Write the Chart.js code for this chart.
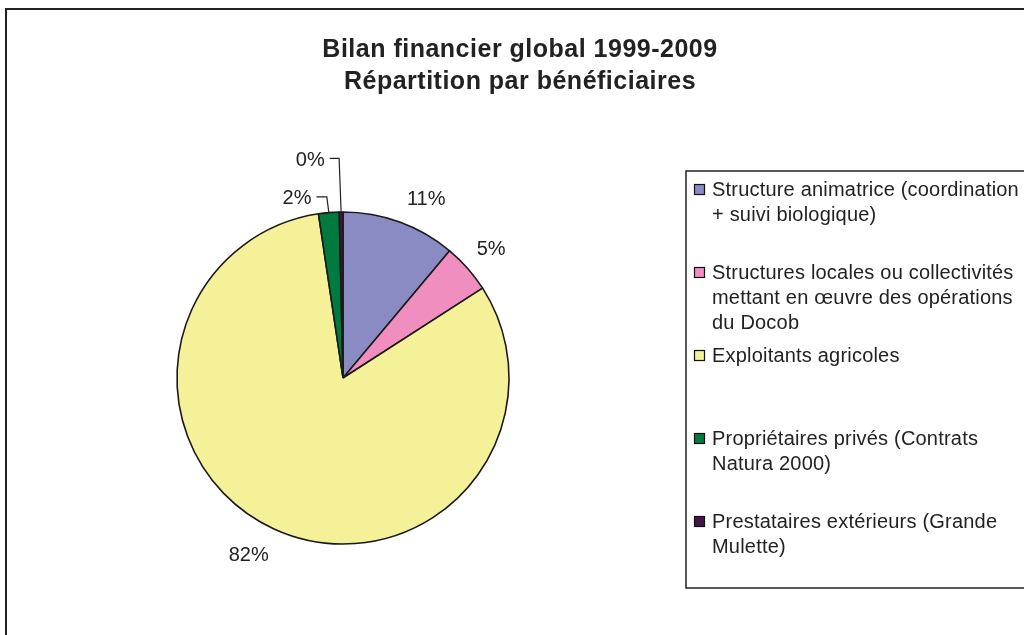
<!DOCTYPE html>
<html lang="fr">
<head>
    <meta charset="UTF-8">
    <title>Bilan financier global 1999-2009</title>
    <script src="https://cdn.jsdelivr.net/npm/chart.js"></script>
    <style>
        body { margin: 0; background: #fff; }
        canvas { display: block; }
    </style>
</head>
<body>
<canvas id="myChart" width="1024" height="635"></canvas>
<script>
    // Données
    const titleLines = ['Bilan financier global 1999-2009', 'Répartition par bénéficiaires'];
    const categories = [
        ['Structure animatrice (coordination', '+ suivi biologique)'],
        ['Structures locales ou collectivités', 'mettant en œuvre des opérations', 'du Docob'],
        ['Exploitants agricoles'],
        ['Propriétaires privés (Contrats', 'Natura 2000)'],
        ['Prestataires extérieurs (Grande', 'Mulette)']
    ];
    const shares = [11.1, 4.8, 81.74, 2.0, 0.36];
    const sliceColors = ['#8B8BC4', '#F08FBF', '#F5F199', '#007A3E', '#421448'];

    // placement des étiquettes : décalage d'angle (degrés) et distance au bord du camembert
    const labelPlacement = [
        { dAng: 5, extra: 31, leader: false },
        { dAng: 0.5, extra: 30, leader: false },
        { dAng: 3.6, extra: 35, leader: false },
        { dAng: -9.5, extra: 19, leader: true },
        { dAng: -7.9, extra: 54, leader: true }
    ];

    const TXT = '#222';
    const FONT = '"Liberation Sans", Arial, sans-serif';

    const decorPlugin = {
        id: 'decor',
        beforeDraw(chart) {
            const ctx = chart.ctx;
            ctx.save();
            // cadre extérieur
            ctx.strokeStyle = '#222';
            ctx.lineWidth = 2;
            ctx.strokeRect(6, 9, 1100, 700);
            // titre
            ctx.fillStyle = TXT;
            ctx.font = 'bold 25px ' + FONT;
            ctx.letterSpacing = '0.5px';
            ctx.textAlign = 'center';
            ctx.textBaseline = 'alphabetic';
            ctx.fillText(titleLines[0], 520, 57);
            ctx.fillText(titleLines[1], 520, 89);
            ctx.letterSpacing = '0px';
            // légende
            ctx.lineWidth = 1.5;
            ctx.strokeStyle = '#222';
            ctx.strokeRect(686, 171, 400, 417);
            ctx.font = '20px ' + FONT;
            ctx.letterSpacing = '0.2px';
            ctx.textAlign = 'left';
            categories.forEach((lines, i) => {
                const base = 196 + i * 83;
                ctx.fillStyle = sliceColors[i];
                ctx.fillRect(694, base - 12, 11, 11);
                ctx.lineWidth = 1.2;
                ctx.strokeStyle = '#111';
                ctx.strokeRect(694.5, base - 11.5, 10, 10);
                ctx.fillStyle = TXT;
                lines.forEach((line, j) => ctx.fillText(line, 712, base + j * 25));
            });
            ctx.restore();
        },
        afterDatasetsDraw(chart) {
            const ctx = chart.ctx;
            const meta = chart.getDatasetMeta(0);
            ctx.save();
            ctx.font = '20px ' + FONT;
            ctx.fillStyle = TXT;
            ctx.strokeStyle = '#222';
            ctx.lineWidth = 1.2;
            ctx.textAlign = 'center';
            ctx.textBaseline = 'middle';
            meta.data.forEach((arc, i) => {
                const p = arc.getProps(['x', 'y', 'startAngle', 'endAngle', 'outerRadius'], true);
                const mid = (p.startAngle + p.endAngle) / 2;
                const pl = labelPlacement[i];
                const a = mid + pl.dAng * Math.PI / 180;
                const d = p.outerRadius + pl.extra;
                const lx = p.x + Math.cos(a) * d;
                const ly = p.y + Math.sin(a) * d;
                const txt = Math.round(shares[i]) + '%';
                ctx.fillText(txt, lx, ly);
                if (pl.leader) {
                    const w = ctx.measureText(txt).width;
                    const ex = p.x + Math.cos(mid) * p.outerRadius;
                    const ey = p.y + Math.sin(mid) * p.outerRadius;
                    const hy = ly - 2;
                    ctx.beginPath();
                    ctx.moveTo(lx + w / 2 + 5, hy);
                    ctx.lineTo(ex - 2, hy);
                    ctx.lineTo(ex, ey);
                    ctx.stroke();
                }
            });
            ctx.restore();
        }
    };

    const ctx = document.getElementById('myChart').getContext('2d');
    new Chart(ctx, {
        type: 'pie',
        data: {
            labels: categories,
            datasets: [{
                data: shares,
                backgroundColor: sliceColors,
                borderColor: '#1a1a1a',
                borderWidth: 1.6,
                hoverOffset: 0
            }]
        },
        options: {
            responsive: false,
            animation: false,
            radius: 166,
            layout: {
                padding: { left: 177, top: 212, right: 515, bottom: 91 }
            },
            plugins: {
                legend: { display: false },
                title: { display: false },
                tooltip: { enabled: false }
            }
        },
        plugins: [decorPlugin]
    });
</script>
</body>
</html>
